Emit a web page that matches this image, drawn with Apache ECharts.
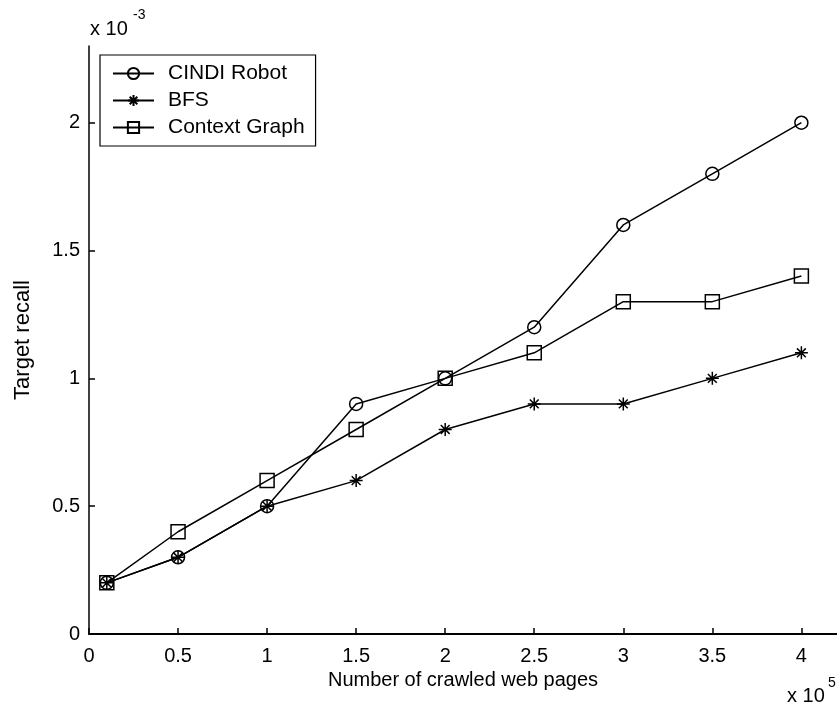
<!DOCTYPE html>
<html>
<head>
<meta charset="utf-8">
<script src="https://cdn.jsdelivr.net/npm/echarts@6/dist/echarts.min.js"></script>
<style>html,body{margin:0;padding:0;background:#fff}#c{width:837px;height:709px}</style>
</head>
<body>
<div id="c"></div>
<script>
const xValues = [0.1, 0.5, 1, 1.5, 2, 2.5, 3, 3.5, 4];
const cindi = [0.2, 0.3, 0.5, 0.9, 1.0, 1.2, 1.6, 1.8, 2.0];
const bfs = [0.2, 0.3, 0.5, 0.6, 0.8, 0.9, 0.9, 1.0, 1.1];
const contextGraph = [0.2, 0.4, 0.6, 0.8, 1.0, 1.1, 1.3, 1.3, 1.4];
const xTicks = [0, 0.5, 1, 1.5, 2, 2.5, 3, 3.5, 4];
const yTicks = [0, 0.5, 1, 1.5, 2];
const seriesNames = ['CINDI Robot', 'BFS', 'Context Graph'];

const FONT = 'Liberation Sans, Arial, sans-serif';
const star = 'path://M0 5 L10 5 M5 0 L5 10 M1.6 1.6 L8.4 8.4 M8.4 1.6 L1.6 8.4';
function pts(ys){ return xValues.map((x,i)=>[x, ys[i]]); }
function mk(name, ys, symbol, size){
  return {
    name, type:'line', data: pts(ys), symbol, symbolSize:size,
    lineStyle:{color:'#000', width:1.5},
    itemStyle:{color: symbol===star ? '#000' : 'rgba(0,0,0,0)', borderColor:'#000', borderWidth:1.5},
    emphasis:{disabled:true}, animation:false
  };
}
const chart = echarts.init(document.getElementById('c'), null, {renderer:'canvas'});
chart.setOption({
  backgroundColor:'#fff',
  animation:false,
  grid:{left:89, top:46, width:748, bottom:75},
  legend:{
    orient:'vertical', left:100, top:55, padding:[8,11,8,12],
    borderColor:'#000', borderWidth:1.2, itemGap:6, itemWidth:41, itemHeight:14,
    textStyle:{fontFamily:FONT, fontSize:21, color:'#000', padding:[0,0,0,9]},
    data: seriesNames
  },
  xAxis:{
    type:'value', min:0, max:4.2,
    name:'Number of crawled web pages', nameLocation:'middle', nameGap:35,
    nameTextStyle:{fontFamily:FONT, fontSize:20, color:'#000'},
    axisLine:{show:true, lineStyle:{color:'#000', width:2}},
    axisTick:{inside:true, length:6, customValues:xTicks, lineStyle:{color:'#000', width:1.5}},
    axisLabel:{customValues:xTicks, margin:12, fontFamily:FONT, fontSize:20, color:'#000'},
    splitLine:{show:false}
  },
  yAxis:{
    type:'value', min:0, max:2.3,
    name:'Target recall', nameLocation:'middle', nameGap:55, nameRotate:90,
    nameTextStyle:{fontFamily:FONT, fontSize:22, color:'#000'},
    axisLine:{show:true, lineStyle:{color:'#000', width:1.5}},
    axisTick:{inside:true, length:6, customValues:yTicks, lineStyle:{color:'#000', width:1.5}},
    axisLabel:{customValues:yTicks, margin:9, fontFamily:FONT, fontSize:20, color:'#000'},
    splitLine:{show:false}
  },
  graphic:[
    {type:'text', left:90, top:19, style:{text:'x 10', fontFamily:FONT, fontSize:20, fill:'#000'}},
    {type:'text', left:133, top:8, style:{text:'-3', fontFamily:FONT, fontSize:14, fill:'#000'}},
    {type:'text', left:787, top:686, style:{text:'x 10', fontFamily:FONT, fontSize:20, fill:'#000'}},
    {type:'text', left:828, top:676, style:{text:'5', fontFamily:FONT, fontSize:14, fill:'#000'}}
  ],
  series:[
    mk(seriesNames[0], cindi, 'circle', 13),
    mk(seriesNames[1], bfs, star, 13),
    mk(seriesNames[2], contextGraph, 'rect', 14)
  ]
});
</script>
</body>
</html>
